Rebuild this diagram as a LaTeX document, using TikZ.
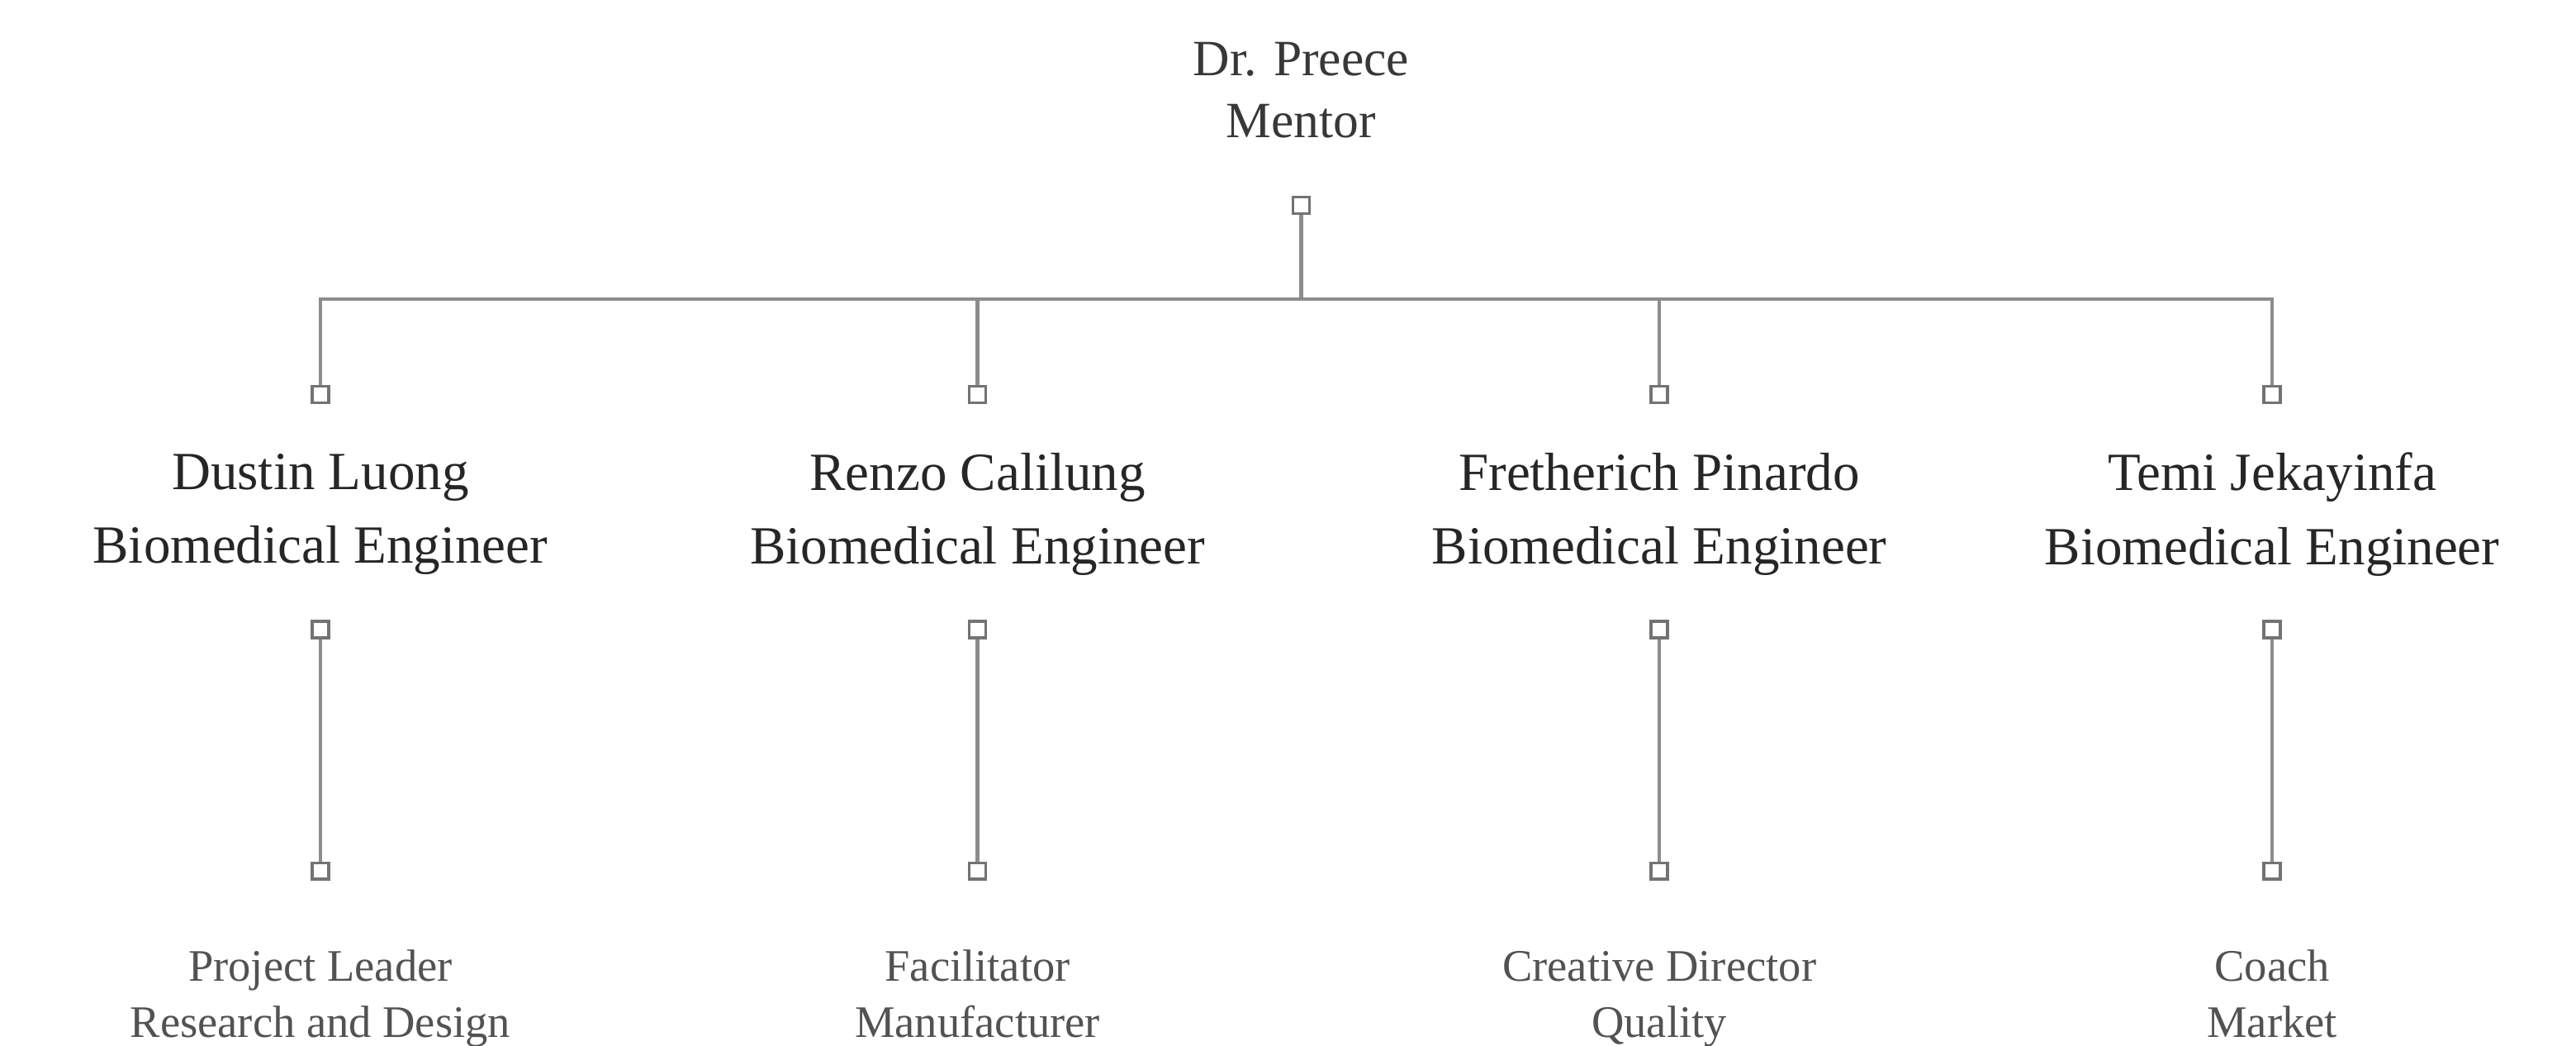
\documentclass[tikz,border=0pt]{standalone}
\usepackage{fontspec}
\setmainfont{Liberation Serif}
\usetikzlibrary{positioning, calc}

\begin{document}
\begin{tikzpicture}[
  head/.style={align=center, inner sep=1pt, text=black!78,
               font=\fontsize{8.8}{10.8}\selectfont},
  member/.style={align=center, inner sep=1pt, text=black!85,
                 font=\fontsize{9.3}{12.8}\selectfont},
  role/.style={align=center, inner sep=1pt, text=black!68, anchor=base,
               font=\fontsize{7.8}{9.7}\selectfont},
  port/.style={draw=black!55, fill=white, line width=0.5pt, inner sep=0pt,
               minimum size=0.1cm},
  link/.style={draw=black!45, line width=0.6pt},
]
\useasboundingbox (0,0) rectangle (15.68,-6.36);

% Nodes
\node[head] (mentor) at (7.92,-0.55) {Dr. Preece\\Mentor};
\node[port] (pm) at (7.92,-1.25) {};
\coordinate (bus) at (7.92,-1.82);

\node[port] (pa1) at (1.95,-2.40) {};
\node[port] (pb1) at (5.95,-2.40) {};
\node[port] (pc1) at (10.10,-2.40) {};
\node[port] (pd1) at (13.83,-2.40) {};

\node[member] (dustin) at (1.95,-3.13) {Dustin Luong\\Biomedical Engineer};
\node[member] (renzo) at (5.95,-3.13) {Renzo Calilung\\Biomedical Engineer};
\node[member] (fretherich) at (10.10,-3.13) {Fretherich Pinardo\\Biomedical Engineer};
\node[member] (temi) at (13.83,-3.13) {Temi Jekayinfa\\Biomedical Engineer};

\node[port] (pa2) at (1.95,-3.83) {};
\node[port] (pb2) at (5.95,-3.83) {};
\node[port] (pc2) at (10.10,-3.83) {};
\node[port] (pd2) at (13.83,-3.83) {};

\node[port] (pa3) at (1.95,-5.30) {};
\node[port] (pb3) at (5.95,-5.30) {};
\node[port] (pc3) at (10.10,-5.30) {};
\node[port] (pd3) at (13.83,-5.30) {};

\node[role] (lead) at (1.95,-6.31) {Project Leader\\Research and Design};
\node[role] (facil) at (5.95,-6.31) {Facilitator\\Manufacturer};
\node[role] (creative) at (10.10,-6.31) {Creative Director\\Quality};
\node[role] (coach) at (13.83,-6.31) {Coach\\Market};

% Connectors
\draw[link] (pm) -- (bus);
\draw[link] (bus) -| (pa1);
\draw[link] (bus) -| (pb1);
\draw[link] (bus) -| (pc1);
\draw[link] (bus) -| (pd1);

\draw[link] (pa2) -- (pa3);
\draw[link] (pb2) -- (pb3);
\draw[link] (pc2) -- (pc3);
\draw[link] (pd2) -- (pd3);

\end{tikzpicture}
\end{document}
